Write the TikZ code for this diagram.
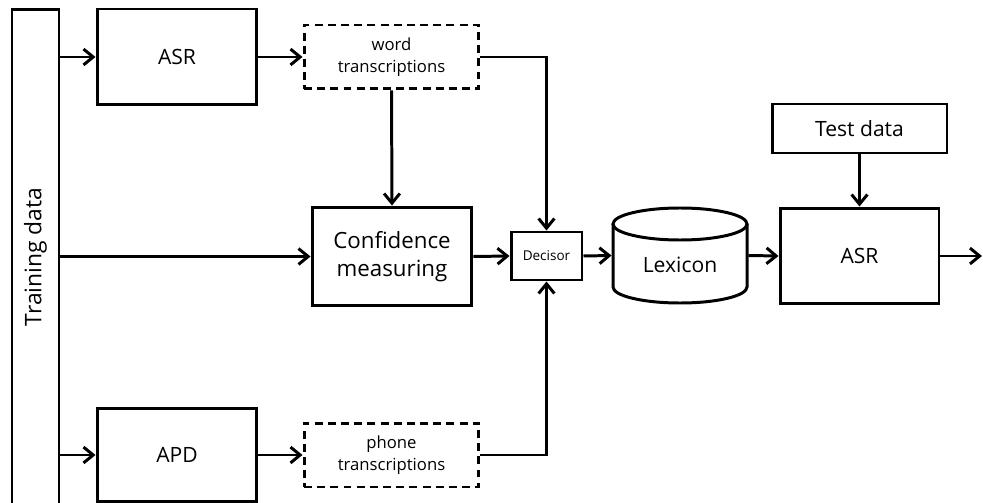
\documentclass[tikz,border=0pt]{standalone}
\usepackage{fontspec}
\setmainfont{Open Sans}
\usetikzlibrary{arrows.meta}
\begin{document}
\begin{tikzpicture}[x=0.02cm,y=-0.02cm,
  line width=1.7pt,
  box/.style={draw, rectangle, inner sep=0pt, align=center, font=\fontsize{12}{15}\selectfont},
  dbox/.style={box, dash pattern=on 4.5pt off 3pt, font=\fontsize{9.5}{12.5}\selectfont},
  flow/.style={-{Straight Barb[length=5.5pt,width=9pt,line width=1.7pt]}},
  link/.style={line join=miter}]
\useasboundingbox (0,0) rectangle (983,503);
% input column
\node[box, minimum width=0.94cm, minimum height=9.92cm] (train) at (35.5,257) {};
\node[rotate=90, font=\fontsize{13}{16}\selectfont] (trainlabel) at (35.5,257) {Training data};
% upper branch
\node[box, minimum width=3.2cm, minimum height=1.92cm] (asr1) at (177,57) {ASR};
\node[dbox, minimum width=3.5cm, minimum height=1.28cm] (word) at (391.5,57) {word\\transcriptions};
% middle branch
\node[box, minimum width=3.2cm, minimum height=1.98cm, font=\fontsize{12.7}{16}\selectfont] (conf) at (392,256.5) {Confidence\\measuring};
\node[box, minimum width=1.42cm, minimum height=0.96cm, font=\fontsize{7.7}{9}\selectfont] (dec) at (546.5,256) {Decisor};
% lower branch
\node[box, minimum width=3.2cm, minimum height=1.86cm] (apd) at (177,455) {APD};
\node[dbox, minimum width=3.5cm, minimum height=1.28cm] (phone) at (391.5,455) {phone\\transcriptions};
% lexicon drum
\node[inner sep=0pt, minimum width=2.68cm, minimum height=1.9cm] (lex) at (680,255.5) {};
\node[font=\fontsize{12}{15}\selectfont] (lextext) at (680,265) {Lexicon};
\draw (680,224) ellipse [x radius=67, y radius=16];
\draw (613,224) -- (613,287) arc[start angle=180, end angle=0, x radius=67, y radius=16] -- (747,224);
% recogniser
\node[box, minimum width=3.18cm, minimum height=1.92cm] (asr2) at (859.5,256) {ASR};
\node[box, minimum width=3.5cm, minimum height=0.98cm] (test) at (859.5,128.5) {Test data};
\coordinate (out) at (982,256);
% connectors
\draw[flow] (train.east |- asr1.west) -- (asr1.west);
\draw[flow] (train.east |- conf.west) -- (conf.west);
\draw[flow] (train.east |- apd.west) -- (apd.west);
\draw[flow] (asr1.east) -- (word.west);
\draw[flow] (apd.east) -- (phone.west);
\draw[flow] (word.south) -- (conf.north);
\draw[flow, link] (word.east) -- (dec.north |- word.east) -- (dec.north);
\draw[flow, link] (phone.east) -- (dec.south |- phone.east) -- (dec.south);
\draw[flow] (conf.east) -- (dec.west);
\draw[flow] (dec.east) -- (lex.west);
\draw[flow] (lex.east) -- (asr2.west);
\draw[flow] (test.south) -- (asr2.north);
\draw[flow] (asr2.east) -- (out);
\end{tikzpicture}
\end{document}
